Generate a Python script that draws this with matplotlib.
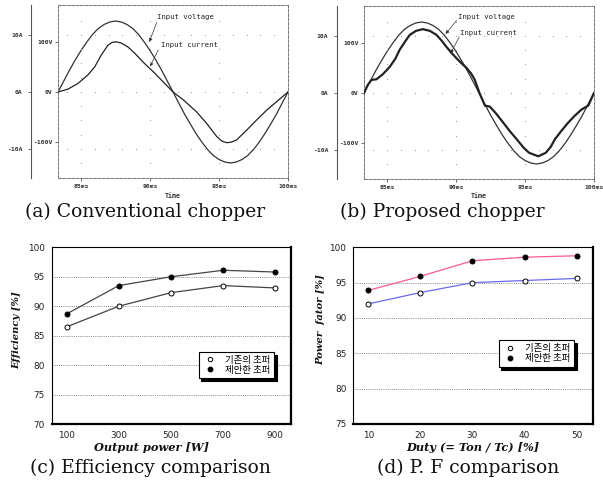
import matplotlib.pyplot as plt
from matplotlib.lines import Line2D

plt.rcParams['font.family'] = ['Noto Sans CJK KR', 'DejaVu Sans']

# waveform data (ms, V, A)
t_volt = [83.33, 83.75, 84.17, 84.58, 85.00, 85.42, 85.83, 86.25, 86.67, 87.08,
          87.50, 87.92, 88.33, 88.75, 89.17, 89.58, 90.00, 90.42, 90.83, 91.25,
          91.67, 92.08, 92.50, 92.92, 93.33, 93.75, 94.17, 94.58, 95.00, 95.42,
          95.83, 96.25, 96.67, 97.08, 97.50, 97.92, 98.33, 98.75, 99.17, 99.58, 100.00]
volt = [0, 22, 44, 64, 83, 100, 115, 127, 135, 140,
        142, 140, 135, 127, 115, 100, 83, 64, 44, 22,
        0, -22, -44, -64, -83, -100, -115, -127, -135, -140,
        -142, -140, -135, -127, -115, -100, -83, -64, -44, -22, 0]

t_cur_a = [83.33, 84.05, 84.78, 85.5, 85.99, 86.47, 86.95, 87.25, 87.56, 87.9,
           88.4, 88.89, 89.6, 90.34, 91.06, 91.67, 92.42, 93.38, 94.1, 94.83,
           95.2, 95.56, 95.9, 96.28, 97.0, 97.73, 98.45, 99.18, 100.0]
cur_a = [0, 0.5, 1.5, 3.0, 4.4, 6.5, 8.2, 8.7, 8.8, 8.6,
         7.9, 6.8, 5.0, 3.3, 1.5, 0, -1.4, -3.5, -5.5, -7.8,
         -8.6, -8.9, -8.8, -8.4, -6.7, -4.9, -3.2, -1.7, 0]

t_cur_b = [83.33, 83.6, 83.87, 84.23, 84.7, 85.2, 85.6, 85.92, 86.3, 86.65,
           87.1, 87.6, 88.1, 88.58, 88.95, 89.3, 89.65, 90.03, 90.4, 90.76,
           91.1, 91.36, 91.7, 92.09, 92.45, 92.9, 93.42, 93.9, 94.39, 94.9,
           95.3, 95.96, 96.5, 96.85, 97.17, 97.65, 98.13, 98.6, 99.1, 99.59, 100.0]
cur_b = [0, 1.4, 2.3, 2.4, 3.3, 4.6, 6.0, 7.6, 9.0, 10.2,
         10.9, 11.2, 10.9, 10.2, 9.2, 8.1, 7.1, 6.1, 5.2, 4.4,
         3.4, 2.3, 0.0, -2.2, -2.4, -3.6, -5.2, -6.7, -8.1, -9.6,
         -10.5, -11.1, -10.5, -9.5, -8.1, -6.6, -5.2, -4.0, -2.9, -2.2, 0]

# measured comparisons
power = [100, 300, 500, 700, 900]
eff_conv = [86.5, 90.0, 92.3, 93.5, 93.1]
eff_prop = [88.7, 93.5, 95.0, 96.1, 95.8]

duty = [10, 20, 30, 40, 50]
pf_conv = [92.0, 93.6, 95.0, 95.3, 95.6]
pf_prop = [93.9, 95.9, 98.1, 98.6, 98.8]

legend_labels = ['기존의 초퍼', '제안한 초퍼']

W, H = 603, 484
fig = plt.figure(figsize=(W / 100, H / 100), dpi=100)


def box(l, t, r, b):
    return [l / W, 1 - b / H, (r - l) / W, (b - t) / H]


def fx(x):
    return x / W


def fy(y):
    return 1 - y / H


mono = 'DejaVu Sans Mono'


def wave_panel(rect, spine_gap, t_i, i_vals, cur_lw, ann):
    ax = fig.add_axes(rect)
    ax.set_xlim(83.33, 100)
    ax.set_ylim(-172, 174)
    for s in ax.spines.values():
        s.set_linestyle((0, (3, 1.5)))
        s.set_color('#777777')
        s.set_linewidth(0.7)
    ax.set_xticks([85, 90, 95, 100])
    ax.set_xticklabels(['85ms', '90ms', '95ms', '100ms'])
    ax.set_yticks([-100, 0, 100])
    ax.set_yticklabels(['-100V', '0V', '100V'])
    ax.tick_params(length=2, width=0.6, color='#555555', pad=2)
    for lab in ax.get_xticklabels() + ax.get_yticklabels():
        lab.set_fontfamily(mono)
        lab.set_fontsize(4.6)
        lab.set_fontweight('bold')
        lab.set_color('#333333')
    ax.plot(t_volt, volt, color='#333333', lw=0.9)

    # current scale on its own solid axis line left of the box
    axa = ax.twinx()
    axa.set_ylim(-15.09, 15.26)
    axa.yaxis.tick_left()
    for k in ('right', 'top', 'bottom'):
        axa.spines[k].set_visible(False)
    axa.spines['left'].set_position(('outward', spine_gap * 0.72))
    axa.spines['left'].set_color('#555555')
    axa.spines['left'].set_linewidth(0.8)
    axa.set_yticks([-10, 0, 10])
    axa.set_yticklabels(['-10A', '0A', '10A'])
    axa.tick_params(axis='y', length=2, width=0.6, color='#555555', pad=4)
    for lab in axa.get_yticklabels():
        lab.set_fontfamily(mono)
        lab.set_fontsize(4.6)
        lab.set_fontweight('bold')
        lab.set_color('#333333')
    # PSpice style dot grid
    for tt in range(84, 100):
        axa.plot([tt] * 3, [-10, 0, 10], ls='none', marker='s', ms=0.7,
                 color='#999999', mew=0)
    for tt in (85, 90, 95):
        axa.plot([tt] * 11, [-12.5 + 2.5 * k for k in range(11)], ls='none',
                 marker='s', ms=0.7, color='#999999', mew=0)
    axa.plot(t_i, i_vals, color='#222222', lw=cur_lw)

    ax.text(91.67, -207, 'Time', fontfamily=mono, fontsize=4.8,
            fontweight='bold', ha='center', va='center', color='#333333')
    for text, tip, tail, pos in ann:
        ax.annotate('', xy=tip, xytext=tail,
                    arrowprops=dict(arrowstyle='-|>', lw=0.5, color='#333333',
                                    mutation_scale=5, shrinkA=0, shrinkB=0))
        ax.text(pos[0], pos[1], text, fontfamily=mono, fontsize=5.2,
                ha='center', va='center', color='#222222')
    return ax


wave_panel(box(58, 5, 288, 178), 27, t_cur_a, cur_a, 0.9,
           [('Input voltage', (89.95, 100), (90.48, 139), (92.6, 150)),
            ('Input current', (90.0, 51), (90.6, 84), (92.85, 94))])
wave_panel(box(364, 6, 594, 179), 27.5, t_cur_b, cur_b, 1.6,
           [('Input voltage', (89.24, 118), (90.04, 145), (92.2, 153)),
            ('Input current', (89.6, 79), (90.23, 112), (92.35, 120))])


def cmp_panel(rect, x, y1, y2, c1, c2, xlim, ylim, legend_anchor):
    ax = fig.add_axes(rect)
    ax.plot(x, y1, color=c1, lw=0.9, marker='o', mfc='white', mec='black',
            ms=3.6, mew=0.7, zorder=3)
    ax.plot(x, y2, color=c2, lw=0.9, marker='o', mfc='black', mec='black',
            ms=3.6, mew=0.7, zorder=3)
    ax.set_xlim(*xlim)
    ax.set_ylim(*ylim)
    ax.set_xticks(x)
    ax.set_yticks(range(ylim[0], ylim[1] + 1, 5))
    ax.tick_params(length=0, labelsize=6.4, pad=5, labelcolor='#222222')
    for lab in ax.get_xticklabels() + ax.get_yticklabels():
        lab.set_fontfamily('DejaVu Sans')
    for yv in range(ylim[0] + 5, ylim[1], 5):
        ax.axhline(yv, color='#888888', lw=0.7, ls=(0, (1, 1.2)), zorder=1)
    for k in ('left', 'top'):
        ax.spines[k].set_linewidth(0.8)
    for k in ('right', 'bottom'):
        ax.spines[k].set_linewidth(1.6)
    handles = [Line2D([], [], ls='none', marker='o', mfc='white', mec='black',
                      ms=3.2, mew=0.7),
               Line2D([], [], ls='none', marker='o', mfc='black', mec='black',
                      ms=3.2)]
    leg = ax.legend(handles, legend_labels, loc='upper right',
                    bbox_to_anchor=legend_anchor, borderaxespad=0,
                    fancybox=False, framealpha=1, edgecolor='black',
                    shadow={'color': 'black', 'alpha': 1},
                    prop={'family': 'Noto Sans CJK KR', 'size': 6.8},
                    handlelength=1.6, handletextpad=0.8, labelspacing=0.12,
                    borderpad=0.4)
    leg.get_frame().set_linewidth(0.8)
    return ax


cmp_panel(box(51.7, 247.3, 291, 424), power, eff_conv, eff_prop,
          '#444444', '#444444', (42.5, 960), (70, 100), (0.929, 0.409))
cmp_panel(box(353.3, 247.3, 592.7, 424), duty, pf_conv, pf_prop,
          '#6a6af0', '#ff5a8c', (7.1, 53.1), (75, 100), (0.922, 0.475))

ylab_font = dict(fontfamily='DejaVu Serif', fontweight='bold',
                 fontstyle='italic', fontsize=7.2, color='#111111')
xlab_font = dict(ylab_font, fontsize=8.2)
fig.text(fx(17), fy(330), 'Efficiency [%]', rotation=90, ha='center',
         va='center', **ylab_font)
fig.text(fx(152), fy(447.5), 'Output power [W]', ha='center', va='center',
         **xlab_font)
fig.text(fx(321), fy(320), 'Power  fator [%]', rotation=90, ha='center',
         va='center', **ylab_font)
fig.text(fx(473), fy(447.5), 'Duty (= Ton / Tc) [%]', ha='center',
         va='center', **xlab_font)

cap_font = dict(fontfamily='DejaVu Serif', fontsize=13.5, ha='center',
                va='center', color='#111111')
fig.text(fx(145), fy(212), '(a) Conventional chopper', **cap_font)
fig.text(fx(442), fy(212), '(b) Proposed chopper', **cap_font)
fig.text(fx(150), fy(468), '(c) Efficiency comparison', **cap_font)
fig.text(fx(468), fy(468), '(d) P. F comparison', **cap_font)

fig.savefig('out.png', dpi=100)
